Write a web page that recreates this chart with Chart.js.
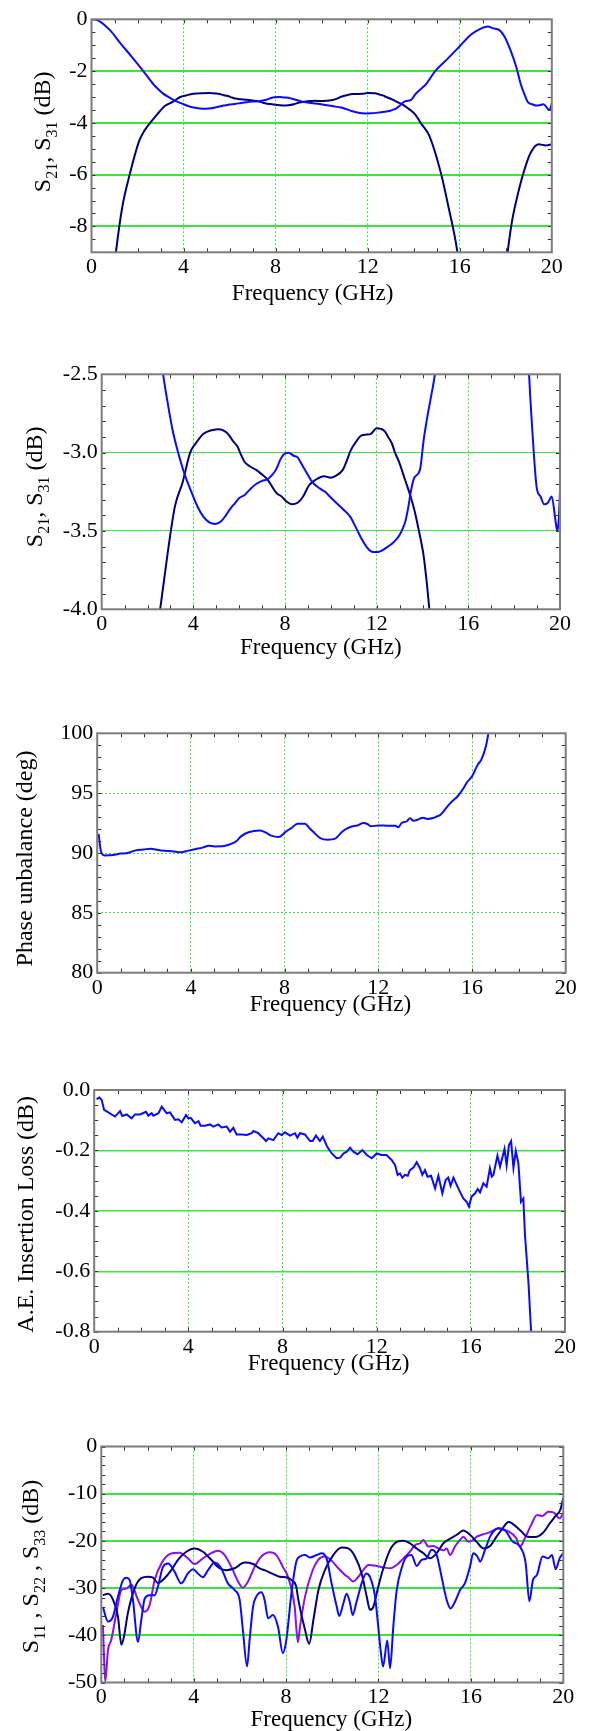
<!DOCTYPE html>
<html><head><meta charset="utf-8">
<script src="https://cdn.jsdelivr.net/npm/chart.js@4.4.0/dist/chart.umd.min.js"></script>
<style>
html,body{margin:0;padding:0;background:#fff;}
body{width:591px;height:1731px;position:relative;overflow:hidden;}
canvas{position:absolute;left:0;}
</style></head><body>
<canvas id="c1" width="591" height="330" style="top:0px"></canvas>
<canvas id="c2" width="591" height="340" style="top:340px"></canvas>
<canvas id="c3" width="591" height="330" style="top:700px"></canvas>
<canvas id="c4" width="591" height="345" style="top:1055px"></canvas>
<canvas id="c5" width="591" height="321" style="top:1410px"></canvas>
<script>
// ---------- tick labels ----------
const freqTicks = [0, 4, 8, 12, 16, 20];
const freqTickLabels = ['0', '4', '8', '12', '16', '20'];
const p1TickValues = [0, -2, -4, -6, -8];
const p1TickLabels = ['0', '-2', '-4', '-6', '-8'];
const p2TickValues = [-2.5, -3.0, -3.5, -4.0];
const p2TickLabels = ['-2.5', '-3.0', '-3.5', '-4.0'];
const p3TickValues = [100, 95, 90, 85, 80];
const p3TickLabels = ['100', '95', '90', '85', '80'];
const p4TickValues = [0, -0.2, -0.4, -0.6, -0.8];
const p4TickLabels = ['0.0', '-0.2', '-0.4', '-0.6', '-0.8'];
const p5TickValues = [0, -10, -20, -30, -40, -50];
const p5TickLabels = ['0', '-10', '-20', '-30', '-40', '-50'];

// ---------- S21 / S31 (panels 1 and 2) ----------
const s21Freq = [0,0.3,0.8,1.25,1.75,2.25,2.55,2.7,2.9,3.1,3.3,3.6,3.94,4.2,4.44,4.7,4.95,5.2,5.42,5.6,5.83,6.0,6.24,6.5,6.74,7.0,7.23,7.45,7.6,7.81,7.95,8.15,8.38,8.55,8.71,8.95,9.2,9.53,9.75,10.02,10.3,10.52,10.85,11.1,11.34,11.55,11.75,11.95,12.16,12.49,12.75,12.98,13.15,13.25,13.39,13.5,13.64,13.89,14.05,14.2,14.35,14.54,14.93,15.5,15.99,16.48,16.81,17.22,17.46,17.71,17.95,18.2,18.45,18.65,18.82,18.98,19.15,19.31,19.47,19.64,19.8,19.88,19.95,20];
const s21Val = [0,-0.05,-0.42,-0.92,-1.45,-2.0,-2.35,-2.52,-2.7,-2.86,-2.98,-3.13,-3.26,-3.35,-3.41,-3.445,-3.455,-3.44,-3.40,-3.36,-3.32,-3.29,-3.27,-3.23,-3.2,-3.18,-3.17,-3.14,-3.11,-3.04,-3.01,-3.0,-3.02,-3.03,-3.07,-3.13,-3.19,-3.23,-3.25,-3.29,-3.33,-3.36,-3.41,-3.48,-3.55,-3.6,-3.63,-3.635,-3.63,-3.6,-3.57,-3.53,-3.48,-3.44,-3.34,-3.24,-3.16,-3.11,-2.92,-2.78,-2.66,-2.5,-2.0,-1.5,-1.05,-0.6,-0.41,-0.28,-0.35,-0.41,-0.67,-1.18,-1.82,-2.5,-2.92,-3.22,-3.28,-3.33,-3.32,-3.28,-3.43,-3.5,-3.42,-3.24];
const s31Freq = [0,0.4,0.75,1.06,1.34,1.67,2.08,2.3,2.55,2.88,3.2,3.53,3.86,4.11,4.44,4.85,5.1,5.26,5.51,5.75,5.92,6.1,6.24,6.5,6.74,7.0,7.23,7.45,7.64,7.85,8.05,8.3,8.55,8.79,9.04,9.37,9.7,10.0,10.19,10.52,10.7,10.85,11.1,11.34,11.55,11.75,12.0,12.33,12.5,12.66,12.8,12.98,13.23,13.48,13.65,13.8,14.05,14.2,14.3,14.68,15.17,15.5,15.9,16.3,17.0,17.7,18.08,18.28,18.53,18.85,19.1,19.43,19.75,20];
const s31Val = [-25,-16,-11.5,-9.0,-7.24,-5.96,-4.68,-4.3,-4.0,-3.64,-3.34,-3.19,-3.0,-2.94,-2.88,-2.855,-2.85,-2.855,-2.88,-2.93,-2.96,-3.02,-3.06,-3.09,-3.11,-3.14,-3.17,-3.22,-3.26,-3.28,-3.31,-3.33,-3.32,-3.28,-3.21,-3.17,-3.15,-3.16,-3.15,-3.11,-3.05,-2.99,-2.93,-2.89,-2.885,-2.88,-2.845,-2.86,-2.9,-2.94,-3.0,-3.06,-3.17,-3.28,-3.37,-3.47,-3.66,-3.85,-4.0,-4.5,-5.9,-7.2,-9.0,-12,-15,-12,-9.0,-7.76,-6.73,-5.7,-5.13,-4.83,-4.87,-4.83];

// ---------- Phase unbalance (panel 3) ----------
const phaseFreq = [0.06,0.16,0.32,0.68,1.0,1.3,1.64,2.0,2.28,2.5,2.77,3.2,3.57,3.9,4.21,4.5,4.77,5.0,5.34,5.74,5.95,6.14,6.46,6.95,7.2,7.43,7.75,8.07,8.3,8.55,8.87,9.05,9.2,9.52,9.84,10.16,10.3,10.48,10.8,11.1,11.37,11.55,11.69,12.0,12.41,12.73,12.85,13.0,13.22,13.35,13.5,13.7,13.9,14.1,14.34,14.5,14.66,14.98,15.2,15.39,15.6,15.79,16.0,16.11,16.25,16.4,16.59,16.7,16.85];
const phaseVal = [91.6,90.15,89.8,89.83,89.95,90.0,90.22,90.3,90.36,90.3,90.2,90.15,90.06,90.2,90.33,90.45,90.61,90.55,90.56,90.78,91.0,91.39,91.73,91.87,91.7,91.45,91.34,91.81,92.1,92.45,92.45,92.1,91.81,91.25,91.11,91.2,91.45,91.81,92.17,92.3,92.5,92.4,92.23,92.3,92.28,92.28,92.15,92.5,92.65,92.9,92.7,92.79,92.95,92.85,92.92,93.05,93.2,93.96,94.4,94.74,95.3,95.91,96.4,96.83,97.4,97.8,98.9,100,102];

// ---------- A.E. insertion loss (panel 4) ----------
const lossFreq = [0.1,0.22,0.32,0.42,0.6,0.88,1.1,1.19,1.38,1.59,1.73,1.95,2.2,2.3,2.44,2.51,2.73,2.87,3.08,3.22,3.43,3.57,3.72,3.9,4.0,4.1,4.28,4.43,4.52,4.71,4.92,5.06,5.27,5.41,5.63,5.77,5.91,6.05,6.26,6.48,6.69,6.76,6.97,7.11,7.3,7.4,7.61,7.82,7.96,8.1,8.32,8.53,8.63,8.74,8.95,9.17,9.28,9.42,9.59,9.71,9.9,10.09,10.3,10.45,10.59,10.73,10.87,11.01,11.19,11.39,11.58,11.79,12.0,12.21,12.42,12.64,12.78,12.89,12.99,13.09,13.2,13.32,13.41,13.56,13.7,13.84,13.94,14.05,14.16,14.31,14.48,14.62,14.79,14.93,15.04,15.14,15.26,15.4,15.54,15.68,15.82,15.92,16.03,16.18,16.29,16.39,16.53,16.67,16.81,16.89,16.96,17.13,17.24,17.43,17.52,17.62,17.71,17.81,17.91,18.02,18.13,18.23,18.3,18.45,18.56,18.65];
const lossVal = [-0.030,-0.025,-0.033,-0.066,-0.074,-0.088,-0.070,-0.086,-0.081,-0.094,-0.081,-0.081,-0.072,-0.085,-0.077,-0.085,-0.077,-0.055,-0.077,-0.074,-0.099,-0.097,-0.107,-0.083,-0.094,-0.092,-0.110,-0.103,-0.118,-0.118,-0.114,-0.121,-0.114,-0.124,-0.121,-0.138,-0.125,-0.147,-0.147,-0.149,-0.143,-0.136,-0.143,-0.154,-0.169,-0.160,-0.166,-0.143,-0.149,-0.140,-0.151,-0.143,-0.158,-0.143,-0.147,-0.169,-0.169,-0.151,-0.169,-0.154,-0.188,-0.210,-0.226,-0.224,-0.210,-0.204,-0.191,-0.204,-0.213,-0.199,-0.215,-0.226,-0.210,-0.215,-0.215,-0.232,-0.248,-0.281,-0.276,-0.290,-0.281,-0.284,-0.265,-0.257,-0.239,-0.259,-0.281,-0.265,-0.287,-0.284,-0.326,-0.284,-0.342,-0.298,-0.290,-0.317,-0.290,-0.314,-0.337,-0.359,-0.370,-0.386,-0.353,-0.342,-0.328,-0.339,-0.309,-0.320,-0.259,-0.287,-0.281,-0.217,-0.254,-0.195,-0.250,-0.182,-0.169,-0.257,-0.202,-0.243,-0.370,-0.359,-0.480,-0.64,-0.8,-0.92];

// ---------- Return loss S11, S22, S33 (panel 5) ----------
const s11Freq = [0.07,0.29,0.5,0.72,0.87,0.98,1.15,1.44,1.73,2.02,2.24,2.45,2.74,3.03,3.32,3.68,4.04,4.4,4.76,5.12,5.41,5.77,6.2,6.57,6.85,7.07,7.43,7.72,8.0,8.23,8.44,8.53,8.82,9.0,9.18,9.4,9.68,10.04,10.4,10.69,10.98,11.27,11.49,11.63,11.78,11.99,12.21,12.5,12.79,13.08,13.36,13.65,13.94,14.23,14.52,14.81,15.1,15.39,15.67,15.96,16.25,16.54,16.83,17.11,17.35,17.63,18.12,18.45,18.78,19.1,19.43,19.67,19.87,20];
const s11Val = [-31.5,-31.2,-32.4,-36,-42,-40.3,-35.3,-30.1,-27.9,-27.6,-27.8,-28.9,-27.9,-26.2,-24.0,-22.3,-21.6,-22.3,-24.0,-25.8,-26.2,-25.8,-24.6,-24.9,-25.8,-26.2,-27.0,-27.6,-27.7,-28.3,-29.7,-32.5,-38.9,-41.8,-36.8,-30.4,-26.2,-23.0,-21.4,-21.6,-23.3,-26.9,-31.8,-34.6,-33.9,-29.7,-25.8,-21.9,-20.2,-19.95,-20.5,-21.6,-22.6,-23.7,-22.6,-20.5,-19.5,-18.7,-17.8,-18.7,-20.2,-21.6,-21.1,-19.1,-17.5,-16.0,-17.7,-19.1,-19.2,-18.4,-16.2,-14.7,-13.4,-10.9];
const s22Freq = [0.07,0.29,0.5,0.72,0.94,1.08,1.23,1.37,1.59,1.73,1.88,2.09,2.31,2.45,2.67,2.89,3.17,3.46,3.75,3.97,4.18,4.4,4.62,4.91,5.19,5.48,5.77,5.99,6.13,6.31,6.42,6.57,6.71,6.93,7.07,7.22,7.43,7.65,7.86,8.01,8.23,8.44,8.6,8.82,9.03,9.32,9.54,9.75,9.97,10.19,10.3,10.48,10.62,10.77,10.88,11.05,11.27,11.46,11.63,11.85,11.99,12.09,12.2,12.38,12.5,12.64,12.79,13.0,13.22,13.43,13.65,13.87,14.08,14.3,14.52,14.73,14.95,15.12,15.31,15.53,15.74,15.96,16.1,16.28,16.4,16.61,16.83,17.05,17.2,17.47,17.8,18.12,18.37,18.53,18.69,18.86,19.1,19.35,19.51,19.67,19.84,20];
const s22Val = [-34.0,-37.1,-36.1,-31.8,-28.3,-27.8,-28.3,-32.5,-41.4,-36.8,-32.2,-31.5,-31.5,-29.7,-25.5,-24.8,-26.5,-29.0,-26.9,-26.0,-26.9,-27.7,-26.2,-24.6,-25.8,-29.0,-30.4,-32.5,-38.9,-46.6,-41.0,-33.9,-31.8,-30.9,-32.5,-36.4,-35.7,-38.2,-43.8,-41.0,-31.1,-24.4,-23.3,-23.0,-23.5,-23.0,-22.6,-23.7,-29.0,-33.9,-35.9,-33.2,-31.2,-33.2,-35.7,-32.9,-29.0,-26.9,-27.6,-31.8,-38.2,-43.1,-46.6,-41.1,-47.0,-38.2,-30.4,-25.8,-23.3,-23.0,-25.3,-24.0,-23.7,-21.9,-23.0,-27.6,-32.5,-34.3,-32.9,-30.4,-29.0,-25.5,-22.6,-23.3,-24.4,-21.9,-19.1,-17.6,-17.3,-17.7,-20.1,-21.2,-24.7,-32.8,-28.2,-27.2,-23.3,-23.7,-23.0,-26.0,-23.7,-22.6];
const s33Freq = [0.07,0.12,0.17,0.29,0.43,0.65,0.87,1.08,1.3,1.59,1.88,2.09,2.31,2.6,2.96,3.39,3.75,4.04,4.4,4.76,5.05,5.34,5.63,5.92,6.13,6.35,6.64,6.93,7.29,7.58,7.86,8.08,8.37,8.51,8.6,8.82,9.1,9.39,9.68,9.97,10.26,10.55,10.69,10.91,11.13,11.34,11.56,11.92,12.21,12.5,12.79,13.08,13.36,13.58,13.8,13.94,14.16,14.37,14.59,14.81,14.95,15.1,15.31,15.53,15.67,15.89,16.1,16.25,16.47,16.68,16.97,17.2,17.35,17.63,17.96,18.12,18.37,18.61,18.86,19.1,19.35,19.59,19.84,20];
const s33Val = [-37.8,-45,-49.8,-43.1,-41.0,-35.4,-30.4,-30.1,-29.3,-32.5,-35.0,-33.6,-28.3,-24.8,-22.8,-22.5,-23.7,-24.9,-23.7,-22.6,-22.1,-23.0,-25.5,-28.6,-29.9,-28.6,-25.5,-23.3,-22.4,-23.0,-25.5,-27.6,-33.9,-41.5,-38.2,-31.8,-26.9,-24.0,-23.3,-24.2,-25.8,-27.2,-27.7,-28.6,-27.6,-26.2,-25.1,-25.3,-25.6,-25.8,-25.1,-23.7,-22.3,-20.9,-20.5,-19.8,-21.2,-21.1,-21.6,-22.0,-21.6,-23.0,-21.2,-19.8,-19.1,-20.2,-19.8,-19.1,-18.7,-18.4,-17.8,-17.3,-17.6,-18.0,-19.4,-21.2,-19.1,-16.6,-14.5,-14.7,-13.8,-14.0,-15.2,-14.1];

// ---------- styling ----------
const SERIF = '"Liberation Serif", "Times New Roman", Times, serif';
const GREEN = '#38e838';
const BLUE = '#0a0aff';
const NAVY = '#00007e';
const PURPLE = '#8a10f0';
const FRAME = '#7c7c7c';

function pts(f, v) { return f.map((x, i) => ({x: x, y: v[i]})); }
function labelFor(vals, labels, v) {
  const i = vals.findIndex(t => Math.abs(t - v) < 1e-9);
  return i >= 0 ? labels[i] : '';
}

function makePanel(o) {
  const cv = document.getElementById(o.id);
  const W = cv.width, H = cv.height;
  const framePlugin = {
    id: 'frame_' + o.id,
    afterDraw(chart) {
      const ctx = chart.ctx, a = chart.chartArea, xs = chart.scales.x, ys = chart.scales.y;
      ctx.save();
      ctx.strokeStyle = '#333';
      ctx.lineWidth = 1;
      ctx.beginPath();
      for (let v = 1; v < 20; v++) {
        const px = Math.round(xs.getPixelForValue(v)) + 0.5;
        ctx.moveTo(px, a.bottom); ctx.lineTo(px, a.bottom - 4);
        ctx.moveTo(px, a.top); ctx.lineTo(px, a.top + 4);
      }
      const k0 = Math.ceil(o.ymin / o.ystep - 1e-6), k1 = Math.floor(o.ymax / o.ystep + 1e-6);
      for (let k = k0; k <= k1; k++) {
        const py = Math.round(ys.getPixelForValue(k * o.ystep)) + 0.5;
        ctx.moveTo(a.left, py); ctx.lineTo(a.left + 4, py);
        ctx.moveTo(a.right, py); ctx.lineTo(a.right - 4, py);
      }
      ctx.stroke();
      ctx.strokeStyle = FRAME;
      ctx.lineWidth = 2;
      ctx.strokeRect(a.left, a.top, a.right - a.left, a.bottom - a.top);
      // x title
      ctx.fillStyle = '#000';
      ctx.font = '23px ' + SERIF;
      ctx.textAlign = 'center';
      ctx.textBaseline = 'alphabetic';
      ctx.fillText('Frequency (GHz)', (a.left + a.right) / 2 + o.xtDx, a.bottom + o.xtDy);
      // y title with subscripts
      const segs = o.ytitle;
      const mainFont = '24px ' + SERIF, subFont = '16px ' + SERIF;
      let total = 0;
      segs.forEach(s => { ctx.font = s[1] ? subFont : mainFont; total += ctx.measureText(s[0]).width; });
      ctx.translate(o.ytX, (a.top + a.bottom) / 2 + o.ytDy);
      ctx.rotate(-Math.PI / 2);
      ctx.textAlign = 'left';
      let cx = -total / 2;
      segs.forEach(s => {
        ctx.font = s[1] ? subFont : mainFont;
        ctx.fillText(s[0], cx, s[1] ? 7 : 0);
        cx += ctx.measureText(s[0]).width;
      });
      ctx.restore();
    }
  };
  new Chart(cv, {
    type: 'line',
    data: {
      datasets: o.series.map(s => ({
        data: pts(s.f, s.v),
        borderColor: s.color,
        borderWidth: 2,
        pointRadius: 0,
        fill: false,
        tension: 0,
        cubicInterpolationMode: s.smooth ? 'monotone' : 'default',
        clip: 0
      }))
    },
    options: {
      responsive: false,
      animation: false,
      devicePixelRatio: 1,
      layout: {padding: {top: o.T, right: W - o.R, left: 0, bottom: 0}},
      plugins: {legend: {display: false}, tooltip: {enabled: false}},
      scales: {
        x: {
          type: 'linear', min: 0, max: 20,
          afterFit: s => { s.height = H - o.B; },
          afterBuildTicks: s => { s.ticks = freqTicks.map(v => ({value: v})); },
          ticks: {
            callback: v => labelFor(freqTicks, freqTickLabels, v),
            font: {family: SERIF, size: 22}, color: '#000', padding: 2,
            maxRotation: 0, autoSkip: false
          },
          grid: {
            drawTicks: false, lineWidth: 1,
            color: c => (c.tick && c.tick.value > 0 && c.tick.value < 20) ? GREEN : 'rgba(0,0,0,0)'
          },
          border: {display: false, dash: [2, 2]}
        },
        y: {
          type: 'linear', min: o.ymin, max: o.ymax,
          afterFit: s => { s.width = o.L; },
          afterBuildTicks: s => { s.ticks = o.yvals.map(v => ({value: v})); },
          ticks: {
            callback: v => labelFor(o.yvals, o.ylabels, v),
            font: {family: SERIF, size: 22}, color: '#000', padding: 4, autoSkip: false
          },
          grid: {
            drawTicks: false, lineWidth: o.hgW,
            color: c => (c.tick && c.tick.value > o.ymin + 1e-9 && c.tick.value < o.ymax - 1e-9) ? GREEN : 'rgba(0,0,0,0)'
          },
          border: {display: false, dash: o.hgDash}
        }
      }
    },
    plugins: [framePlugin]
  });
}

const S2131 = [['S', 0], ['21', 1], [', ', 0], ['S', 0], ['31', 1], [' (dB)', 0]];

makePanel({id: 'c1', L: 91.5, R: 551.8, T: 19.3, B: 252.3,
  ymin: -9, ymax: 0, ystep: 0.5, yvals: p1TickValues, ylabels: p1TickLabels,
  hgW: 2, hgDash: [], xtDx: -9, xtDy: 48, ytX: 50, ytDy: -4, ytitle: S2131,
  series: [{f: s21Freq, v: s21Val, color: BLUE, smooth: true},
           {f: s31Freq, v: s31Val, color: NAVY, smooth: true}]});

makePanel({id: 'c2', L: 101.7, R: 560, T: 34.3, B: 269.3,
  ymin: -4, ymax: -2.5, ystep: 0.1, yvals: p2TickValues, ylabels: p2TickLabels,
  hgW: 1, hgDash: [], xtDx: -10, xtDy: 45, ytX: 41.5, ytDy: -5, ytitle: S2131,
  series: [{f: s21Freq, v: s21Val, color: BLUE, smooth: true},
           {f: s31Freq, v: s31Val, color: NAVY, smooth: true}]});

makePanel({id: 'c3', L: 97.2, R: 565.7, T: 33.3, B: 272.7,
  ymin: 80, ymax: 100, ystep: 1, yvals: p3TickValues, ylabels: p3TickLabels,
  hgW: 1, hgDash: [2, 2], xtDx: -1, xtDy: 38, ytX: 32, ytDy: 5.5,
  ytitle: [['Phase unbalance (deg)', 0]],
  series: [{f: phaseFreq, v: phaseVal, color: BLUE, smooth: true}]});

makePanel({id: 'c4', L: 94.2, R: 565, T: 35, B: 276.7,
  ymin: -0.8, ymax: 0, ystep: 0.05, yvals: p4TickValues, ylabels: p4TickLabels,
  hgW: 1.5, hgDash: [], xtDx: -1, xtDy: 38, ytX: 33, ytDy: 3.5,
  ytitle: [['A.E. Insertion Loss (dB)', 0]],
  series: [{f: lossFreq, v: lossVal, color: BLUE, smooth: false}]});

makePanel({id: 'c5', L: 101.3, R: 563.3, T: 36.5, B: 272.5,
  ymin: -50, ymax: 0, ystep: 2, yvals: p5TickValues, ylabels: p5TickLabels,
  hgW: 2, hgDash: [], xtDx: -1, xtDy: 43.5, ytX: 38, ytDy: 2,
  ytitle: [['S', 0], ['11', 1], [' , ', 0], ['S', 0], ['22', 1], [' , ', 0], ['S', 0], ['33', 1], [' (dB)', 0]],
  series: [{f: s22Freq, v: s22Val, color: BLUE, smooth: true},
           {f: s11Freq, v: s11Val, color: NAVY, smooth: true},
           {f: s33Freq, v: s33Val, color: PURPLE, smooth: true}]});
</script>
</body></html>
